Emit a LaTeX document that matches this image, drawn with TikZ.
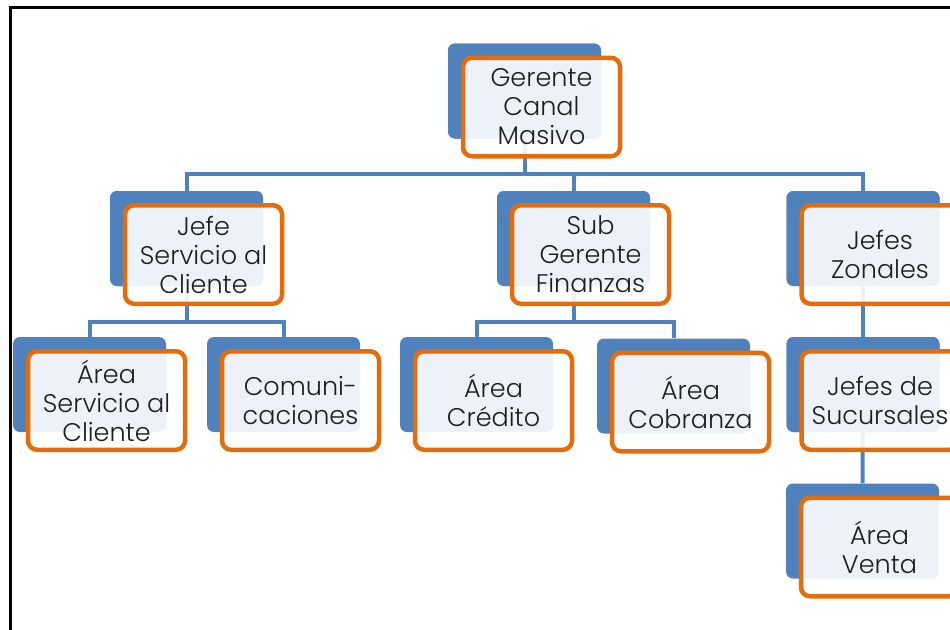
\documentclass[tikz,border=0pt]{standalone}
\usepackage{fontspec}
\setmainfont{Poppins}[UprightFont={* Light}]
\definecolor{boxblue}{HTML}{4F81BD}
\definecolor{boxorange}{HTML}{E46C0A}
\definecolor{txt}{HTML}{1E1E1E}
\begin{document}
\begin{tikzpicture}[x=1pt,y=-1pt,
  back/.style={fill=boxblue,draw=none,rounded corners=7pt,minimum width=153pt,minimum height=95pt,inner sep=0pt},
  front/.style={fill=white,fill opacity=0.9,text opacity=1,draw=boxorange,line width=4.5pt,rounded corners=9pt,
     minimum width=157pt,minimum height=98.5pt,inner sep=0pt,align=center,text=txt,
     font=\fontsize{25.5}{29}\selectfont},
  conn/.style={draw=boxblue,line width=4pt}]
\useasboundingbox (0,0) rectangle (950,629);
\clip (0,0) rectangle (950,629);
% frame
\draw[line width=3pt,black] (10.5,7.5) rectangle (970,650);
% back shapes
\node[back] (gb)  at (524.5,91) {};
\node[back] (j1b) at (186.5,238.5) {};
\node[back] (j2b) at (573.5,238.5) {};
\node[back] (j3b) at (863,238.5) {};
\node[back] (a1b) at (89.5,384.5) {};
\node[back] (a2b) at (283.5,384.5) {};
\node[back] (a3b) at (476.5,384.5) {};
\node[back] (a4b) at (673.5,386) {};
\node[back] (sb)  at (863,384.5) {};
\node[back] (vb)  at (862.5,531) {};
% connectors
\coordinate (bus1) at (524.5,173.5);
\coordinate (bus2) at (186.5,322);
\coordinate (bus3) at (573.5,322);
\draw[conn] (gb.center) -- (bus1) -| (j1b.north);
\draw[conn] (bus1) -| (j2b.north);
\draw[conn] (bus1) -| (j3b.north);
\draw[conn] (j1b.center) -- (bus2) -| (a1b.north);
\draw[conn] (bus2) -| (a2b.north);
\draw[conn] (j2b.center) -- (bus3) -| (a3b.north);
\draw[conn] (bus3) -| (a4b.north);
\draw[conn] (j3b.center) -- (sb.north);
\draw[conn] (sb.center) -- (vb.north);
% redraw back shapes over connectors
\node[back] at (gb) {};
\node[back] at (j1b) {};
\node[back] at (j2b) {};
\node[back] at (j3b) {};
\node[back] at (sb) {};
% front shapes
\node[front] (g)  at ([shift={(17,16)}]gb.center) {Gerente\\Canal\\Masivo};
\node[front] (j1) at ([shift={(17,16)}]j1b.center) {Jefe\\Servicio al\\Cliente};
\node[front] (j2) at ([shift={(17,16)}]j2b.center) {Sub\\Gerente\\Finanzas};
\node[front] (j3) at ([shift={(17,16)}]j3b.center) {Jefes\\Zonales};
\node[front] (a1) at ([shift={(17,16)}]a1b.center) {Área\\Servicio al\\Cliente};
\node[front] (a2) at ([shift={(17,16)}]a2b.center) {Comuni-\\caciones};
\node[front] (a3) at ([shift={(17,16)}]a3b.center) {Área\\Crédito};
\node[front] (a4) at ([shift={(17,16)}]a4b.center) {Área\\Cobranza};
\node[front] (s)  at ([shift={(17,16)}]sb.center) {Jefes de\\Sucursales};
\node[front] (v)  at ([shift={(17,16)}]vb.center) {Área\\Venta};
\end{tikzpicture}
\end{document}
